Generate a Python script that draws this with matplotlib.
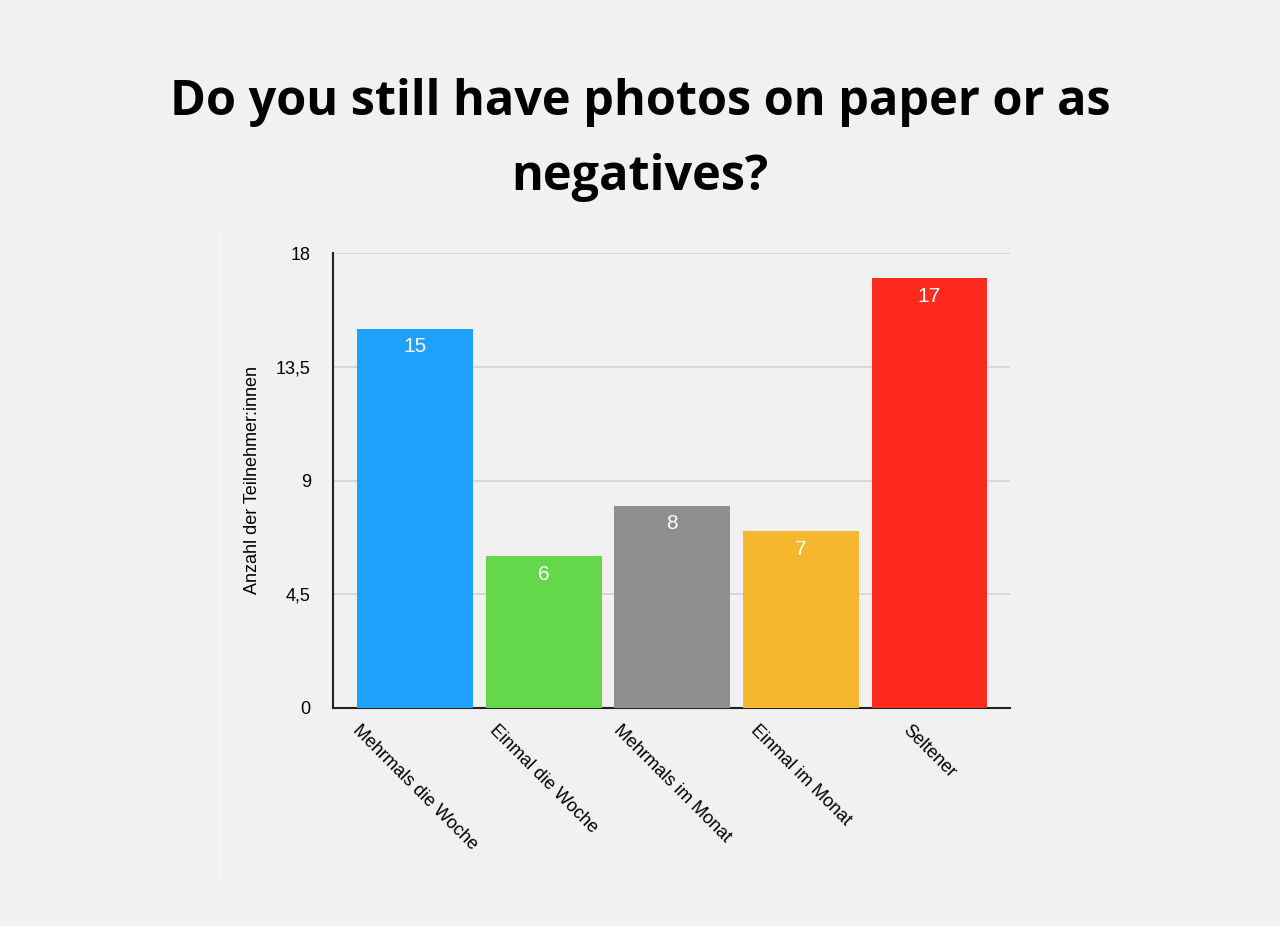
import matplotlib
matplotlib.use("Agg")
import matplotlib.pyplot as plt
from matplotlib.lines import Line2D

categories = ["Mehrmals die Woche", "Einmal die Woche", "Mehrmals im Monat", "Einmal im Monat", "Seltener"]
values = [15, 6, 8, 7, 17]
colors = ["#1ea1fc", "#64d84a", "#8f8f8f", "#f4b72e", "#ff2a1f"]
yticks = [0, 4.5, 9, 13.5, 18]
ytick_labels = ["0", "4,5", "9", "13,5", "18"]
title = "Do you still have photos on paper or as\nnegatives?"
ylabel = "Anzahl der Teilnehmer:innen"

bg = "#f1f1f1"
fig = plt.figure(figsize=(12.8, 9.26), dpi=100, facecolor=bg)
ax = fig.add_axes([333/1280, 1-708/926, (1010-333)/1280, (708-253)/926])
ax.set_facecolor(bg)

x = list(range(len(categories)))
bars = ax.bar(x, values, width=0.9, color=colors, zorder=3)
for xi, v in zip(x, values):
    ax.annotate(str(v), (xi, v), xytext=(0, -13), textcoords="offset points",
                ha="center", va="center", color="white", fontsize=15,
                family="Liberation Sans", zorder=4)

ax.set_xlim(-0.638, 4.626)
ax.set_ylim(0, 18)
ax.set_yticks(yticks)
ax.set_yticklabels(ytick_labels, family="Liberation Sans", fontsize=13)
ax.set_xticks(x)
ax.set_xticklabels(categories, rotation=-45, ha="center", va="top",
                   family="Liberation Sans", fontsize=13)
ax.tick_params(axis="both", length=0)
ax.tick_params(axis="x", pad=10)
ax.tick_params(axis="y", pad=16)
ax.yaxis.grid(True, color="#d2d2d2", linewidth=1.2, zorder=0)
ax.set_axisbelow(True)
for s in ["top", "right"]:
    ax.spines[s].set_visible(False)
for s in ["left", "bottom"]:
    ax.spines[s].set_color("#222222")
    ax.spines[s].set_linewidth(1.5)
ax.set_ylabel(ylabel, family="Liberation Sans", fontsize=13, labelpad=11)

fig.text(0.5, 1-140/926, title, ha="center", va="center", fontsize=35,
         fontweight="bold", family="Open Sans", linespacing=1.70)

fig.add_artist(Line2D([220/1280, 220/1280], [1-232/926, 1-875/926],
                      color="#fafafa", linewidth=1.2))

fig.savefig("out.png", dpi=100, facecolor=bg)
